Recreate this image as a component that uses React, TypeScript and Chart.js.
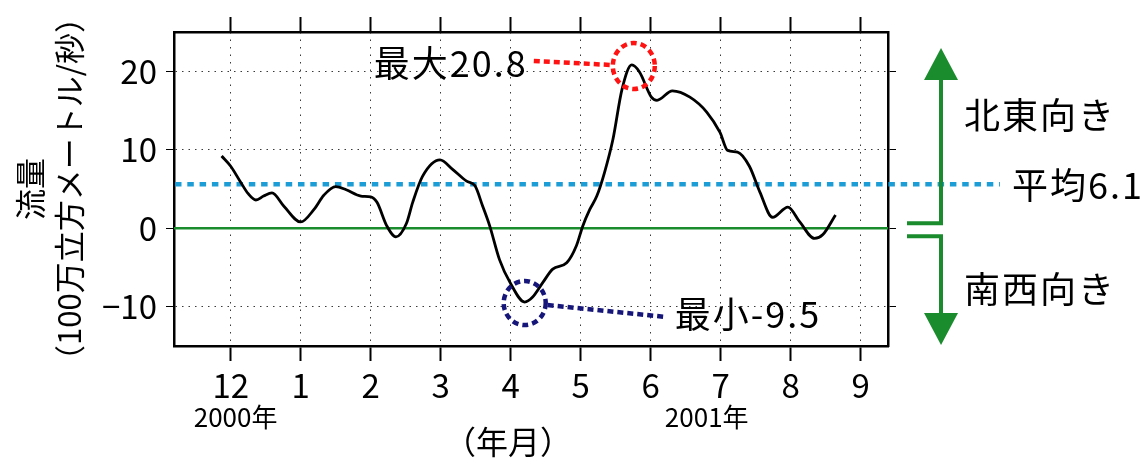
import React, { useEffect, useRef } from 'react';
import { Chart, registerables } from 'chart.js';

Chart.register(...registerables);

// ---- data ----
const MONTH_TICKS = [0, 1, 2, 3, 4, 5, 6, 7, 8, 9];
const MONTH_LABELS = ['12', '1', '2', '3', '4', '5', '6', '7', '8', '9'];
const Y_TICKS = [-10, 0, 10, 20];

// months counted from 2000-12 (0) ... 2001-09 (9)
const FLOW_MONTH = [
  -0.13, 0.0, 0.14, 0.25, 0.36, 0.47, 0.59, 0.76, 1.0, 1.19, 1.33, 1.5, 1.65, 1.86, 2.0, 2.09,
  2.23, 2.36, 2.51, 2.6, 2.74, 2.99, 3.17, 3.37, 3.49, 3.6, 3.7, 3.84, 3.99, 4.2, 4.31, 4.46,
  4.6, 4.8, 4.94, 5.03, 5.13, 5.23, 5.34, 5.46, 5.59, 5.73, 5.84, 6.01, 6.09, 6.31, 6.56, 6.8,
  6.99, 7.1, 7.24, 7.41, 7.56, 7.74, 7.96, 8.13, 8.34, 8.46, 8.64,
];
const FLOW_VALUE = [
  9.2, 7.9, 5.9, 4.4, 3.6, 4.1, 4.5, 2.8, 0.8, 2.4, 4.2, 5.3, 4.9, 4.1, 4.0, 3.3,
  0.3, -1.1, 0.6, 3.3, 6.6, 8.7, 7.5, 6.0, 5.4, 2.8, 0.3, -4.0, -6.9, -9.4, -8.8, -6.9,
  -5.2, -4.4, -2.2, 0.3, 2.4, 4.1, 7.1, 11.3, 17.7, 20.8, 19.9, 16.7, 16.3, 17.5, 16.7, 14.8,
  12.2, 9.9, 9.7, 7.9, 4.6, 1.4, 2.7, 0.8, -1.3, -0.8, 1.7,
];

const X_MIN = -0.81;
const X_MAX = 9.39;
const Y_MIN = -15;
const Y_MAX = 25;

const MEAN_LINE_Y = 5.6;
const MAX_MONTH = 5.73;
const MAX_VALUE = 20.8;
const MIN_MONTH = 4.2;
const MIN_VALUE = -9.4;

const MAX_LABEL = '最大20.8';
const MIN_LABEL = '最小-9.5';
const MEAN_LABEL = '平均6.1';
const NE_LABEL = '北東向き';
const SW_LABEL = '南西向き';
const YEAR_LABELS = ['2000年', '2001年'];
const YEAR_LABEL_MONTH = [0.07, 6.8];
const X_TITLE = '（年月）';
const X_TITLE_MONTH = 3.96;
const Y_TITLE = ['流量', '（100万立方メートル/秒）'];

// ---- styles ----
const FONT = '"Noto Sans CJK JP", "Noto Sans", sans-serif';
const GREEN = '#1b8c2e';
const BLUE = '#1d9dd6';
const RED = '#ff1212';
const NAVY = '#16167a';
const GRID = '#3a3a3a';

const annotations = {
  id: 'annotations',
  beforeDatasetsDraw(chart: any) {
    const { ctx, chartArea, scales } = chart;
    const y = scales.y;
    const ym = y.getPixelForValue(MEAN_LINE_Y);
    ctx.save();
    ctx.strokeStyle = BLUE;
    ctx.lineWidth = 4.5;
    ctx.setLineDash([6.5, 5.8]);
    ctx.beginPath();
    ctx.moveTo(chartArea.left + 1, ym);
    ctx.lineTo(chartArea.right + 112, ym);
    ctx.stroke();
    ctx.restore();
  },
  afterDatasetsDraw(chart: any) {
    const { ctx, chartArea, scales } = chart;
    const x = scales.x;
    const y = scales.y;
    ctx.save();
    // max marker
    const mx = x.getPixelForValue(MAX_MONTH);
    const my = y.getPixelForValue(MAX_VALUE);
    ctx.strokeStyle = RED;
    ctx.lineWidth = 4.5;
    ctx.setLineDash([6, 4]);
    ctx.beginPath();
    ctx.ellipse(mx + 2, my + 1, 21, 23, 0, 0, Math.PI * 2);
    ctx.stroke();
    ctx.beginPath();
    ctx.moveTo(mx - 98, my - 4);
    ctx.lineTo(mx - 21, my + 0);
    ctx.stroke();
    // min marker
    const nx = x.getPixelForValue(MIN_MONTH);
    const ny = y.getPixelForValue(MIN_VALUE);
    ctx.strokeStyle = NAVY;
    ctx.beginPath();
    ctx.ellipse(nx, ny + 1, 21, 22, 0, 0, Math.PI * 2);
    ctx.stroke();
    ctx.beginPath();
    ctx.moveTo(nx + 23, ny + 3);
    ctx.lineTo(nx + 142, ny + 15);
    ctx.stroke();
    ctx.setLineDash([]);

    // right side arrows
    const y0 = y.getPixelForValue(0);
    const ax = chartArea.right + 53;
    const sx = chartArea.right + 19;
    ctx.strokeStyle = GREEN;
    ctx.fillStyle = GREEN;
    ctx.lineWidth = 4;
    ctx.lineJoin = 'miter';
    ctx.beginPath();
    ctx.moveTo(sx, y0 - 5);
    ctx.lineTo(ax, y0 - 5);
    ctx.lineTo(ax, chartArea.top + 40);
    ctx.stroke();
    ctx.beginPath();
    ctx.moveTo(ax, chartArea.top + 16);
    ctx.lineTo(ax - 17, chartArea.top + 48);
    ctx.lineTo(ax + 17, chartArea.top + 48);
    ctx.closePath();
    ctx.fill();
    ctx.beginPath();
    ctx.moveTo(sx, y0 + 8);
    ctx.lineTo(ax, y0 + 8);
    ctx.lineTo(ax, chartArea.bottom - 25);
    ctx.stroke();
    ctx.beginPath();
    ctx.moveTo(ax, chartArea.bottom - 1);
    ctx.lineTo(ax - 17, chartArea.bottom - 33);
    ctx.lineTo(ax + 17, chartArea.bottom - 33);
    ctx.closePath();
    ctx.fill();

    // texts
    ctx.fillStyle = '#000';
    ctx.textBaseline = 'middle';
    ctx.textAlign = 'left';
    ctx.font = `36px ${FONT}`;
    (ctx as any).letterSpacing = '2px';
    ctx.fillText(MAX_LABEL, mx - 258, my - 2);
    ctx.fillText(MIN_LABEL, nx + 150, ny + 12);
    ctx.fillText(NE_LABEL, chartArea.right + 76, y.getPixelForValue(14.4));
    ctx.fillText(SW_LABEL, chartArea.right + 76, y.getPixelForValue(-7.8));
    ctx.fillText(MEAN_LABEL, chartArea.right + 124, y.getPixelForValue(MEAN_LINE_Y) + 1);
    (ctx as any).letterSpacing = '0px';

    ctx.textAlign = 'center';
    ctx.font = `26px ${FONT}`;
    YEAR_LABELS.forEach((t, i) => {
      ctx.fillText(t, x.getPixelForValue(YEAR_LABEL_MONTH[i]), chartArea.bottom + 71);
    });
    ctx.font = `32px ${FONT}`;
    ctx.fillText(X_TITLE, x.getPixelForValue(X_TITLE_MONTH), chartArea.bottom + 96);
    ctx.restore();
  },
};

function monthTicks(scale: any) {
  scale.ticks = MONTH_TICKS.map((v) => ({ value: v }));
}
function yTicks(scale: any) {
  scale.ticks = Y_TICKS.map((v) => ({ value: v }));
}

const borderOpts = (dash: number[]) => ({ display: true, color: '#000', width: 2.5, dash });

export default function App() {
  const ref = useRef<HTMLCanvasElement | null>(null);

  useEffect(() => {
    if (!ref.current) return;
    const flow = FLOW_MONTH.map((m, i) => ({ x: m, y: FLOW_VALUE[i] }));
    const chart = new Chart(ref.current, {
      type: 'line',
      data: {
        datasets: [
          {
            label: '流量',
            data: flow,
            borderColor: '#000',
            borderWidth: 2.8,
            pointRadius: 0,
            cubicInterpolationMode: 'monotone',
            fill: false,
          },
          {
            label: 'zero',
            data: [
              { x: X_MIN, y: 0 },
              { x: X_MAX, y: 0 },
            ],
            borderColor: GREEN,
            borderWidth: 2.5,
            pointRadius: 0,
            fill: false,
          },
        ],
      },
      options: {
        animation: false,
        responsive: false,
        devicePixelRatio: 1,
        layout: { padding: { left: 0, top: 0, right: 248, bottom: 0 } },
        plugins: {
          legend: { display: false },
          tooltip: { enabled: false },
        },
        scales: {
          x: {
            type: 'linear',
            position: 'bottom',
            min: X_MIN,
            max: X_MAX,
            afterBuildTicks: monthTicks,
            afterFit: (s: any) => {
              s.height = 113;
            },
            ticks: {
              callback: (_v: any, i: number) => MONTH_LABELS[i],
              font: { family: FONT, size: 33 },
              color: '#000',
              padding: 5,
              maxRotation: 0,
              autoSkip: false,
            },
            grid: {
              color: GRID,
              lineWidth: 1,
              tickLength: 15,
              tickWidth: 2,
              tickColor: '#000',
              tickBorderDash: [],
            },
            border: borderOpts([1.5, 6]),
          },
          x2: {
            type: 'linear',
            position: 'top',
            min: X_MIN,
            max: X_MAX,
            afterBuildTicks: monthTicks,
            afterFit: (s: any) => {
              s.height = 32;
            },
            ticks: { display: false },
            grid: {
              drawOnChartArea: false,
              tickLength: 15,
              tickWidth: 2,
              tickColor: '#000',
              tickBorderDash: [],
            },
            border: borderOpts([]),
          },
          y: {
            type: 'linear',
            position: 'left',
            min: Y_MIN,
            max: Y_MAX,
            afterBuildTicks: yTicks,
            afterFit: (s: any) => {
              s.width = 174;
            },
            ticks: {
              callback: (v: any) => (v < 0 ? '−' + Math.abs(v) : String(v)),
              font: { family: FONT, size: 33 },
              color: '#000',
              padding: 9,
            },
            grid: {
              color: GRID,
              lineWidth: 1,
              tickLength: 8,
              tickWidth: 1,
              tickColor: '#000',
              tickBorderDash: [],
            },
            border: borderOpts([1.5, 5]),
            title: {
              display: true,
              text: Y_TITLE,
              color: '#000',
              font: { family: FONT, size: 31, lineHeight: 1.25 },
              padding: { top: 11, bottom: 0 },
            },
          },
          y2: {
            type: 'linear',
            position: 'right',
            min: Y_MIN,
            max: Y_MAX,
            afterBuildTicks: yTicks,
            afterFit: (s: any) => {
              s.width = 10;
            },
            ticks: { display: false },
            grid: {
              drawOnChartArea: false,
              tickLength: 8,
              tickWidth: 1,
              tickColor: '#000',
              tickBorderDash: [],
            },
            border: borderOpts([]),
          },
        },
      } as any,
      plugins: [annotations],
    });
    return () => chart.destroy();
  }, []);

  return (
    <div style={{ position: 'fixed', left: 0, top: 0, width: 1146, height: 459, background: '#fff' }}>
      <canvas ref={ref} width={1146} height={459} />
    </div>
  );
}
